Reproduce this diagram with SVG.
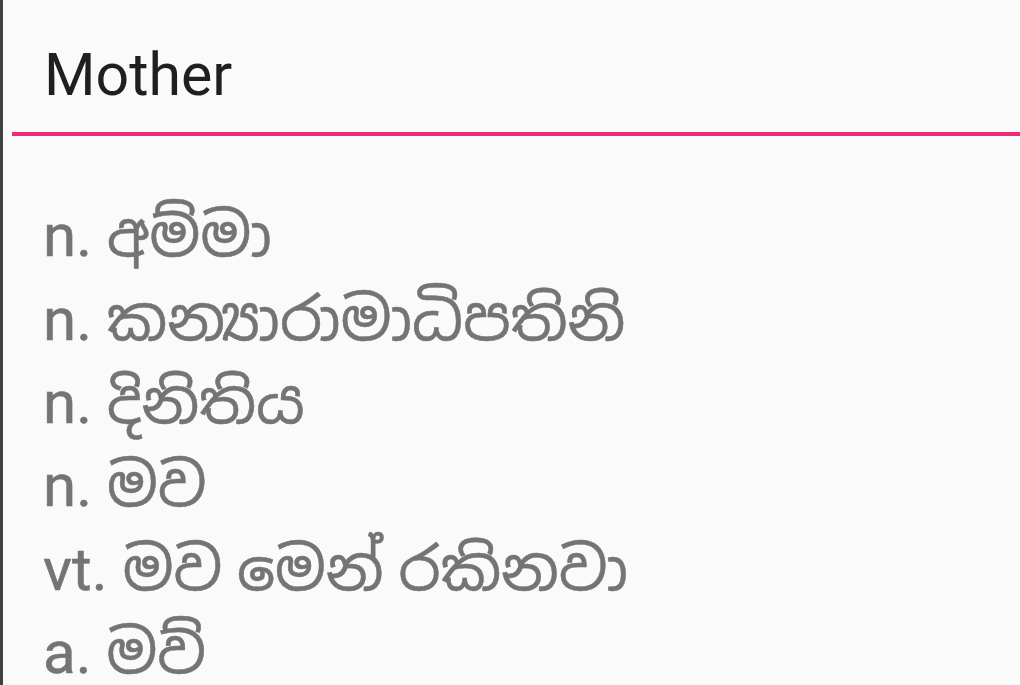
<svg xmlns="http://www.w3.org/2000/svg" width="1020" height="685" viewBox="0 0 1020 685">
<style>
.title{font-family:Roboto,"Noto Sans",sans-serif;font-size:59px;fill:#1f1f1f}
.entry{font-family:Roboto,"Noto Sans Sinhala","Noto Sans","Iskoola Pota",sans-serif;font-size:60px;fill:#747474;stroke:#747474;stroke-width:0.5}
</style>
<rect x="0" y="0" width="1020" height="685" fill="#fafafa"/>
<rect x="0" y="0" width="3" height="685" fill="#404040"/>
<g id="header">
<text class="title" x="44" y="95">Mother</text>
<rect x="12" y="132" width="1008" height="4" fill="#ee2a7b"/>
</g>
<g id="entries">
<text class="entry" x="43" y="256">n. අම්මා</text>
<text class="entry" x="43" y="339.5">n. කන්‍යාරාමාධිපතිනි</text>
<text class="entry" x="43" y="423">n. දිනිතිය</text>
<text class="entry" x="43" y="506">n. මව</text>
<text class="entry" x="43" y="590">vt. මව මෙන් රකිනවා</text>
<text class="entry" x="43" y="673">a. මව්</text>
</g>
</svg>
